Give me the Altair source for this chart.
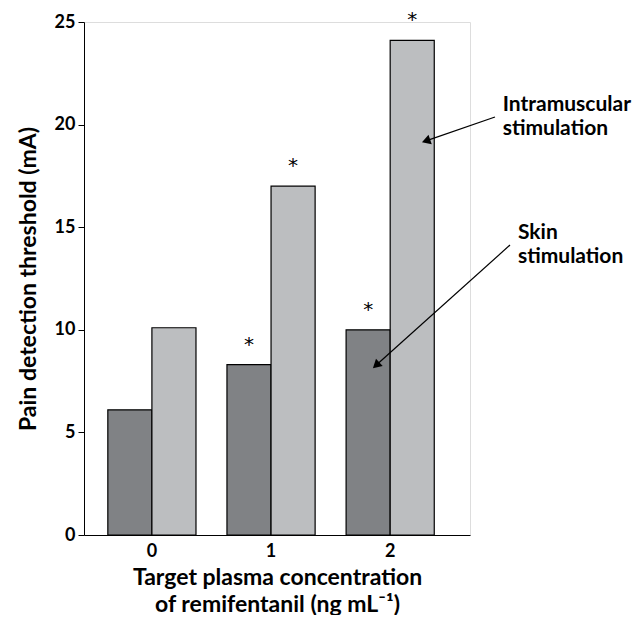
import altair as alt
import pandas as pd

concentrations = ["0", "1", "2"]
skin = [6.1, 8.3, 10.0]
intramuscular = [10.1, 17.0, 24.1]
skin_sig = [False, True, True]
im_sig = [False, True, True]
groups = ["Skin stimulation", "Intramuscular stimulation"]

rows = []
for c, s, i, ss, si in zip(concentrations, skin, intramuscular, skin_sig, im_sig):
    rows.append({"conc": c, "group": groups[0], "value": s, "star": "*" if ss else ""})
    rows.append({"conc": c, "group": groups[1], "value": i, "star": "*" if si else ""})
df = pd.DataFrame(rows)

# annotation positions in category units (x) and mA (y); y is the text baseline
ann_text = pd.DataFrame({
    "x": [2.939, 2.939, 3.067, 3.067],
    "y": [20.68, 19.50, 14.44, 13.24],
    "t": ["Intramuscular", "stimulation", "Skin", "stimulation"],
})
ann_arrow = pd.DataFrame({
    "x": [2.874, 3.0],
    "y": [20.37, 14.13],
    "x2": [2.306, 1.884],
    "y2": [19.23, 8.32],
    "ang": [251, 228],
})

FONT = "Lato"
XDOM = [-0.58, 2.664]

xband = alt.X("conc:N", sort=concentrations,
              scale=alt.Scale(paddingInner=0.26, paddingOuter=0.25, align=0.4),
              axis=alt.Axis(title=["Target plasma concentration", "of remifentanil (ng mL\u207b\u00b9)"],
                            labelAngle=0, ticks=False, labelFontSize=18, labelFontWeight="bold",
                            labelPadding=7, titleFontSize=23, titleFontWeight="bold",
                            titlePadding=6, titleLineHeight=27, domainColor="black",
                            labelColor="black", titleColor="black", labelFont=FONT, titleFont=FONT))
yq = alt.Y("value:Q", scale=alt.Scale(domain=[0, 25], nice=False),
           axis=alt.Axis(title="Pain detection threshold (mA)", values=[0, 5, 10, 15, 20, 25],
                         grid=False, tickSize=6, tickColor="black", domainColor="black",
                         labelFontSize=18, labelFontWeight="bold", labelColor="black",
                         titleFontSize=23, titleFontWeight="bold", titleColor="black",
                         titlePadding=14, labelPadding=3, labelFont=FONT, titleFont=FONT))

bars = alt.Chart(df).mark_bar(stroke="black", strokeWidth=1.2).encode(
    x=xband,
    xOffset=alt.XOffset("group:N", sort=groups),
    y=yq,
    color=alt.Color("group:N", sort=groups,
                    scale=alt.Scale(domain=groups, range=["#808285", "#bcbec0"]),
                    legend=None),
)
stars = alt.Chart(df).mark_text(fontSize=20, font="DejaVu Sans", baseline="middle", dy=-20,
                                color="#000000", fill="#000000").encode(
    x=alt.X("conc:N", sort=concentrations),
    xOffset=alt.XOffset("group:N", sort=groups),
    y=alt.Y("value:Q"),
    text="star:N",
)
base = alt.layer(bars, stars)

xq = alt.X("x:Q", scale=alt.Scale(domain=XDOM, nice=False, zero=False), axis=None)
yq2 = alt.Y("y:Q", scale=alt.Scale(domain=[0, 25], nice=False), axis=None)

labels = alt.Chart(ann_text).mark_text(align="left", baseline="alphabetic", fontSize=21,
                                        fontWeight="bold", font=FONT, color="black").encode(
    x=xq, y=yq2, text="t:N")
lines = alt.Chart(ann_arrow).mark_rule(color="black", strokeWidth=1.2).encode(
    x=xq, y=yq2, x2="x2:Q", y2="y2:Q")
heads = alt.Chart(ann_arrow).mark_point(shape="triangle", filled=True, color="black",
                                         size=100, opacity=1).encode(
    x=alt.X("x2:Q", scale=alt.Scale(domain=XDOM, nice=False, zero=False), axis=None),
    y=alt.Y("y2:Q", scale=alt.Scale(domain=[0, 25], nice=False), axis=None),
    angle=alt.Angle("ang:Q", scale=None))
ann = alt.layer(lines, heads, labels)

chart = alt.layer(base, ann).resolve_scale(x="independent", y="independent").properties(
    width=386, height=513,
    autosize=alt.AutoSizeParams(type="none"),
    padding={"left": 76, "top": 14, "right": 164, "bottom": 80},
).configure_view(strokeWidth=0, stroke="transparent").configure(font=FONT)

chart.save("out.html", embed_options={"renderer": "svg", "actions": False})
